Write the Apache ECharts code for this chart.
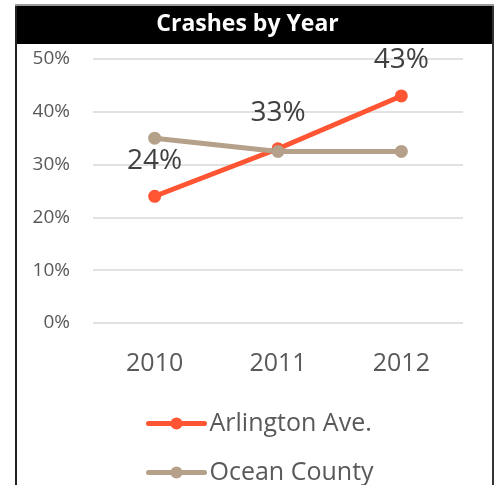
<!DOCTYPE html>
<html>
<head>
<meta charset="utf-8">
<style>
  html, body { margin: 0; padding: 0; background: #fff; }
  #chart { width: 495px; height: 485px; }
</style>
<script src="https://cdn.jsdelivr.net/npm/echarts@6/dist/echarts.min.js"></script>
</head>
<body>
<div id="chart"></div>
<script>
// Crash share per year, in percent
const years = ['2010', '2011', '2012'];
const arlington = [24, 33, 43];
const oceanCounty = [35, 32.5, 32.5];
const seriesNames = ['Arlington Ave.', 'Ocean County'];
const chartTitle = 'Crashes by Year';

const chart = echarts.init(document.getElementById('chart'));
const FONT = '"Open Sans", sans-serif';

// one legend entry per row, stacked under the plot
function legendRow(name, top) {
  return {
    show: true,
    orient: 'horizontal',
    left: 141,
    top: top,
    itemWidth: 56,
    itemHeight: 15,
    lineStyle: { width: 5, cap: 'round' },
    textStyle: { fontFamily: FONT, fontSize: 25, color: '#595959' },
    data: [name]
  };
}

chart.setOption({
  animation: false,
  backgroundColor: '#ffffff',
  graphic: [
    // header band and outer frame
    { type: 'rect', shape: { x: 15, y: 4, width: 479, height: 2 }, style: { fill: '#9a9a9a' } },
    { type: 'rect', shape: { x: 15, y: 6, width: 479, height: 38 }, style: { fill: '#000000' } },
    { type: 'rect', shape: { x: 15, y: 6, width: 2, height: 479 }, style: { fill: '#222222' } },
    { type: 'rect', shape: { x: 492, y: 6, width: 2, height: 479 }, style: { fill: '#333333' } },
    {
      type: 'text', left: 'center', top: 13,
      style: { text: chartTitle, fill: '#ffffff', font: 'bold 23px ' + FONT, textAlign: 'center' }
    }
  ],
  grid: { left: 93, right: 32, top: 59, bottom: 162 },
  legend: [legendRow(seriesNames[0], 406), legendRow(seriesNames[1], 455)],
  xAxis: {
    type: 'category',
    data: years,
    boundaryGap: true,
    axisLine: { show: false },
    axisTick: { show: false },
    axisLabel: { fontFamily: FONT, fontSize: 25, color: '#595959', margin: 28 }
  },
  yAxis: {
    type: 'value',
    min: 0,
    max: 50,
    interval: 10,
    axisLine: { show: false },
    axisTick: { show: false },
    axisLabel: { formatter: '{value}%', fontFamily: FONT, fontSize: 19, color: '#595959', margin: 23 },
    splitLine: { lineStyle: { color: '#d9d9d9', width: 1.5 } }
  },
  series: [
    {
      name: seriesNames[0],
      type: 'line',
      data: arlington,
      color: '#ff5533',
      lineStyle: { width: 5 },
      symbol: 'circle',
      symbolSize: 13,
      z: 3,
      label: {
        show: true,
        position: 'top',
        distance: 15,
        formatter: '{c}%',
        fontFamily: FONT,
        fontSize: 28,
        color: '#404040'
      }
    },
    {
      name: seriesNames[1],
      type: 'line',
      data: oceanCounty,
      color: '#b5a089',
      lineStyle: { width: 5 },
      symbol: 'circle',
      symbolSize: 13,
      z: 4
    }
  ]
});
</script>
</body>
</html>
